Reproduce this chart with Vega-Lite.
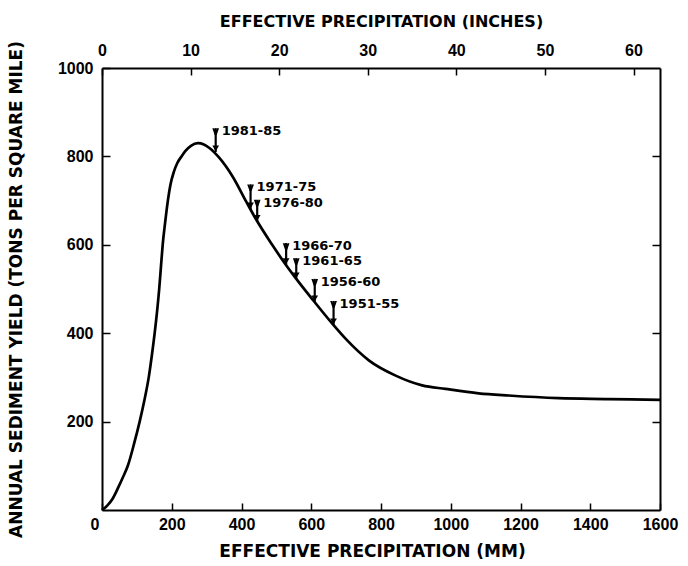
{
  "$schema": "https://vega.github.io/schema/vega-lite/v6.json",
  "width": 558,
  "height": 442,
  "autosize": "none",
  "padding": {"left": 102, "top": 68, "right": 28, "bottom": 56},
  "background": "white",
  "config": {
    "view": {"stroke": null},
    "axis": {
      "labelFont": "Liberation Sans",
      "labelFontWeight": "bold",
      "labelFontSize": 16,
      "labelColor": "black",
      "titleFont": "DejaVu Sans",
      "titleFontWeight": "bold",
      "titleFontSize": 17,
      "titleColor": "black",
      "domainColor": "black",
      "domainWidth": 2,
      "tickColor": "black",
      "tickWidth": 1.5,
      "grid": false,
      "labelFlush": false,
      "format": "d"
    }
  },
  "datasets": {
    "curve": [
      {"mm": 0, "yield": 0}, {"mm": 15, "yield": 10}, {"mm": 30, "yield": 25},
      {"mm": 46, "yield": 50}, {"mm": 60, "yield": 74}, {"mm": 74, "yield": 100},
      {"mm": 92, "yield": 150}, {"mm": 108, "yield": 200}, {"mm": 122, "yield": 250},
      {"mm": 134, "yield": 300}, {"mm": 143, "yield": 350}, {"mm": 151, "yield": 400},
      {"mm": 158, "yield": 450}, {"mm": 164, "yield": 500}, {"mm": 169, "yield": 550},
      {"mm": 174, "yield": 600}, {"mm": 181, "yield": 650}, {"mm": 188, "yield": 695},
      {"mm": 196, "yield": 735}, {"mm": 206, "yield": 765}, {"mm": 216, "yield": 785},
      {"mm": 228, "yield": 800}, {"mm": 240, "yield": 813}, {"mm": 255, "yield": 824},
      {"mm": 275, "yield": 830}, {"mm": 292, "yield": 827}, {"mm": 308, "yield": 819},
      {"mm": 336, "yield": 797}, {"mm": 374, "yield": 755}, {"mm": 412, "yield": 700},
      {"mm": 440, "yield": 660}, {"mm": 488, "yield": 600}, {"mm": 526, "yield": 556},
      {"mm": 556, "yield": 524}, {"mm": 604, "yield": 476}, {"mm": 661, "yield": 421},
      {"mm": 699, "yield": 387}, {"mm": 766, "yield": 338}, {"mm": 842, "yield": 304},
      {"mm": 918, "yield": 282}, {"mm": 985, "yield": 274}, {"mm": 1080, "yield": 264},
      {"mm": 1166, "yield": 259}, {"mm": 1309, "yield": 253}, {"mm": 1451, "yield": 251},
      {"mm": 1600, "yield": 249}
    ],
    "marks": [
      {"period": "1981-85", "mm": 326, "tip": 810, "top": 864},
      {"period": "1971-75", "mm": 426, "tip": 681, "top": 737},
      {"period": "1976-80", "mm": 445, "tip": 653, "top": 702},
      {"period": "1966-70", "mm": 528, "tip": 555, "top": 604},
      {"period": "1961-65", "mm": 557, "tip": 523, "top": 570},
      {"period": "1956-60", "mm": 610, "tip": 471, "top": 523},
      {"period": "1951-55", "mm": 664, "tip": 419, "top": 473}
    ],
    "inchFrame": [
      {"inches": 0, "yield": 0},
      {"inches": 62.99, "yield": 1000}
    ]
  },
  "layer": [
    {
      "encoding": {
        "x": {
          "field": "mm", "type": "quantitative",
          "scale": {"domain": [0, 1600], "nice": false, "zero": false},
          "axis": {
            "orient": "bottom",
            "title": "EFFECTIVE PRECIPITATION (MM)",
            "titleX": 270,
            "values": [0, 200, 400, 600, 800, 1000, 1200, 1400, 1600],
            "tickSize": -7,
            "labelPadding": 13,
            "titlePadding": 11,
            "labelAlign": {"condition": {"test": "datum.value == 0", "value": "right"}, "value": "center"},
            "labelOffset": {"condition": {"test": "datum.value == 0", "value": -3}, "value": 0}
          }
        }
      },
      "layer": [
        {
          "data": {"name": "curve"},
          "mark": {"type": "line", "color": "black", "strokeWidth": 2.7, "interpolate": "monotone"},
          "encoding": {
            "y": {
              "field": "yield", "type": "quantitative",
              "scale": {"domain": [0, 1000], "nice": false},
              "axis": {
                "orient": "left",
                "title": "ANNUAL SEDIMENT YIELD (TONS PER SQUARE MILE)",
                "values": [200, 400, 600, 800, 1000],
                "tickSize": -8,
                "labelPadding": 17,
                "titlePadding": 32
              }
            }
          }
        },
        {
          "data": {"name": "marks"},
          "mark": {"type": "rule", "color": "black", "strokeWidth": 2.2},
          "encoding": {
            "y": {"field": "top", "type": "quantitative"},
            "y2": {"field": "tip"}
          }
        },
        {
          "data": {"name": "marks"},
          "mark": {"type": "point", "shape": "triangle-down", "filled": true, "color": "black", "opacity": 1, "size": 45, "yOffset": -3.5},
          "encoding": {
            "y": {"field": "tip", "type": "quantitative"}
          }
        },
        {
          "data": {"name": "marks"},
          "mark": {"type": "point", "shape": "M-1,-1L-0.4,-1L0,0L0.4,-1L1,-1L0.3,1L-0.3,1Z", "filled": true, "color": "black", "opacity": 1, "size": 45, "yOffset": 3.5},
          "encoding": {
            "y": {"field": "top", "type": "quantitative"}
          }
        },
        {
          "data": {"name": "marks"},
          "mark": {"type": "text", "align": "left", "baseline": "middle", "dx": 6, "dy": 3, "font": "DejaVu Sans", "fontWeight": "bold", "fontSize": 13, "color": "black"},
          "encoding": {
            "y": {"field": "top", "type": "quantitative"},
            "text": {"field": "period"}
          }
        }
      ]
    },
    {
      "data": {"name": "inchFrame"},
      "mark": {"type": "point", "opacity": 0},
      "encoding": {
        "x": {
          "field": "inches", "type": "quantitative",
          "scale": {"domain": [0, 62.99], "nice": false, "zero": false},
          "axis": {
            "orient": "top",
            "title": "EFFECTIVE PRECIPITATION (INCHES)",
            "titleFontSize": 16,
            "values": [0, 10, 20, 30, 40, 50, 60],
            "tickSize": -7,
            "labelPadding": 17,
            "titlePadding": 13
          }
        },
        "y": {
          "field": "yield", "type": "quantitative",
          "scale": {"domain": [0, 1000], "nice": false},
          "axis": {
            "orient": "right",
            "title": null,
            "labels": false,
            "values": [200, 400, 600, 800],
            "tickSize": -8
          }
        }
      }
    }
  ],
  "resolve": {"scale": {"x": "independent", "y": "independent"}}
}
